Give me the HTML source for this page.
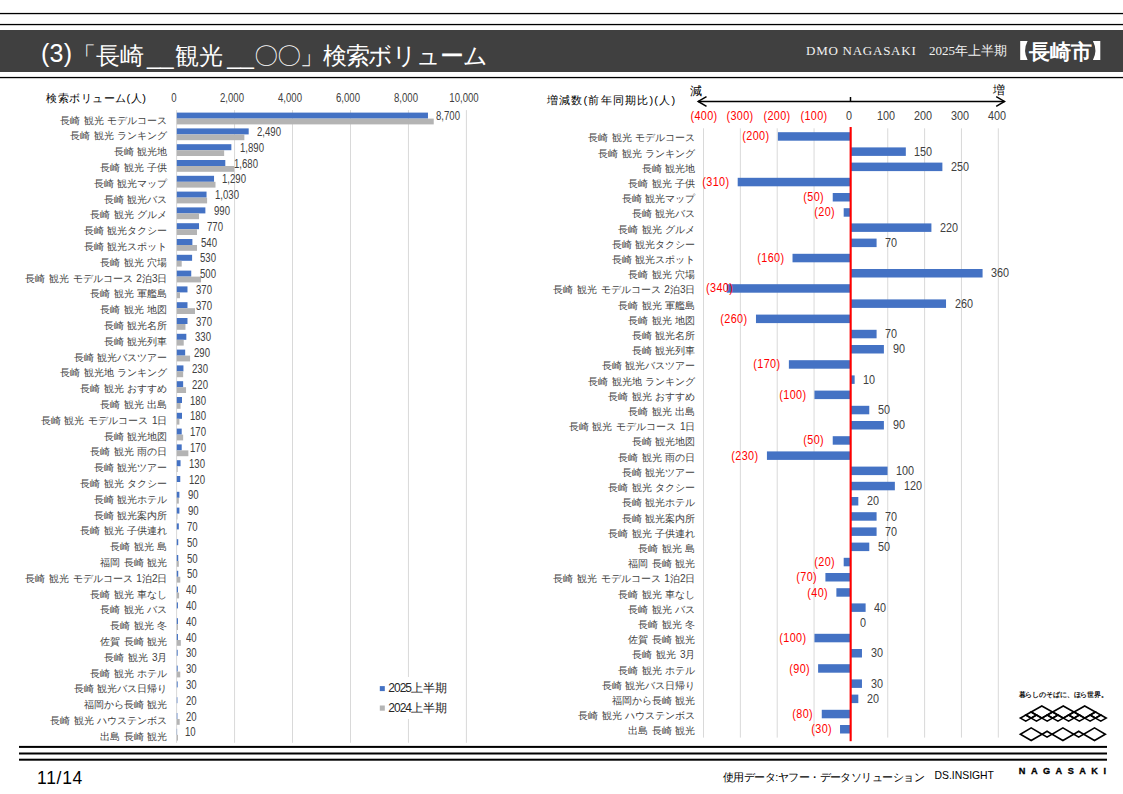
<!DOCTYPE html>
<html lang="ja"><head><meta charset="utf-8"><title>検索ボリューム</title>
<style>
@font-face { font-family: "LSJ"; src: local("Liberation Sans"); unicode-range: U+2E80-9FFF, U+3000-303F, U+FF00-FFEF; size-adjust: 133.3%; }
@font-face { font-family: "LSJB"; src: local("Liberation Sans Bold"), local("LiberationSans-Bold"); font-weight: bold; unicode-range: U+2E80-9FFF, U+3000-303F, U+FF00-FFEF; size-adjust: 133.3%; }
html,body{margin:0;padding:0;background:#fff;}
body{width:1123px;height:794px;position:relative;overflow:hidden;font-family:"LSJ","Liberation Sans",sans-serif;}
svg{position:absolute;left:0;top:0;}
div{position:absolute;white-space:nowrap;height:20px;line-height:20px;margin-top:-10px;}
.c{width:120px;text-align:center;}
.r{text-align:right;}
.title{color:#fff;font-size:24px;height:30px;line-height:30px;margin-top:-15px;}
.hdr2{color:#f2f2f2;font-family:"LSJ","Liberation Serif",serif;font-size:13px;}
.ttl{font-size:11px;color:#000;}
.hdr{color:#f2f2f2;font-family:"LSJ","Liberation Serif",serif;font-size:13px;letter-spacing:0.75px;}
.city{color:#fff;font-family:"LSJB","Liberation Sans",sans-serif;font-weight:bold;font-size:21px;height:30px;line-height:30px;margin-top:-15px;}
.lab{font-size:10px;word-spacing:1px;color:#404040;}
.leg{font-size:12px;color:#262626;}
.lab12{font-size:12px;color:#000;}
.num12{font-size:12px;color:#404040;transform:scaleX(0.8);transform-origin:0 50%;}
.num12.c{transform-origin:50% 50%;}
.num11,.num11p{font-size:12.5px;color:#404040;transform:scaleX(0.865);transform-origin:0 50%;}
.num11p{letter-spacing:0.45px;}
.c{transform-origin:50% 50% !important;}
.r{transform-origin:100% 50% !important;}
.red{color:#ff0000;}
.ls{letter-spacing:3.5px;}
.pg{font-size:17.5px;letter-spacing:0.7px;color:#000;}
.src{font-size:11px;letter-spacing:-0.55px;color:#000;}
.src2{font-size:10.4px;color:#000;}
.tag{font-family:"LSJB","Liberation Sans",sans-serif;font-weight:bold;font-size:6.8px;letter-spacing:-0.12px;color:#111;}
.nag{font-family:"Liberation Sans",sans-serif;font-weight:bold;font-size:9.2px;letter-spacing:5.45px;color:#000;-webkit-text-stroke:0.3px #000;}
</style></head><body>
<svg width="1123" height="794" viewBox="0 0 1123 794">
<rect x="0" y="12.9" width="1123" height="1.3" fill="#000"/>
<rect x="0" y="23.9" width="1123" height="1.3" fill="#000"/>
<rect x="0" y="30" width="1123" height="42" fill="#404040"/>
<rect x="0" y="76.9" width="1123" height="1.3" fill="#000"/>
<path d="M1020.2,41 L1027.6,41 Q1022.6,50.5 1027.6,60 L1020.2,60 Z" fill="#fff"/>
<path d="M1100.3,41 L1092.9,41 Q1097.9,50.5 1092.9,60 L1100.3,60 Z" fill="#fff"/>
<rect x="176.10" y="110.10" width="1" height="632.70" fill="#d9d9d9"/>
<rect x="234.06" y="110.10" width="1" height="632.70" fill="#d9d9d9"/>
<rect x="292.02" y="110.10" width="1" height="632.70" fill="#d9d9d9"/>
<rect x="349.98" y="110.10" width="1" height="632.70" fill="#d9d9d9"/>
<rect x="407.94" y="110.10" width="1" height="632.70" fill="#d9d9d9"/>
<rect x="465.90" y="110.10" width="1" height="632.70" fill="#d9d9d9"/>
<rect x="176.8" y="112.60" width="251.17" height="6.0" fill="#4472c4"/>
<rect x="176.8" y="118.60" width="256.94" height="5.8" fill="#b4b4b4"/>
<rect x="176.8" y="128.40" width="71.89" height="6.0" fill="#4472c4"/>
<rect x="176.8" y="134.40" width="67.56" height="5.8" fill="#b4b4b4"/>
<rect x="176.8" y="144.20" width="54.56" height="6.0" fill="#4472c4"/>
<rect x="176.8" y="150.20" width="47.35" height="5.8" fill="#b4b4b4"/>
<rect x="176.8" y="160.00" width="48.50" height="6.0" fill="#4472c4"/>
<rect x="176.8" y="166.00" width="57.45" height="5.8" fill="#b4b4b4"/>
<rect x="176.8" y="175.80" width="37.24" height="6.0" fill="#4472c4"/>
<rect x="176.8" y="181.80" width="38.69" height="5.8" fill="#b4b4b4"/>
<rect x="176.8" y="191.60" width="29.74" height="6.0" fill="#4472c4"/>
<rect x="176.8" y="197.60" width="30.31" height="5.8" fill="#b4b4b4"/>
<rect x="176.8" y="207.40" width="28.58" height="6.0" fill="#4472c4"/>
<rect x="176.8" y="213.40" width="22.23" height="5.8" fill="#b4b4b4"/>
<rect x="176.8" y="223.20" width="22.23" height="6.0" fill="#4472c4"/>
<rect x="176.8" y="229.20" width="20.21" height="5.8" fill="#b4b4b4"/>
<rect x="176.8" y="239.00" width="15.59" height="6.0" fill="#4472c4"/>
<rect x="176.8" y="245.00" width="20.21" height="5.8" fill="#b4b4b4"/>
<rect x="176.8" y="254.80" width="15.30" height="6.0" fill="#4472c4"/>
<rect x="176.8" y="260.80" width="4.91" height="5.8" fill="#b4b4b4"/>
<rect x="176.8" y="270.60" width="14.44" height="6.0" fill="#4472c4"/>
<rect x="176.8" y="276.60" width="24.25" height="5.8" fill="#b4b4b4"/>
<rect x="176.8" y="286.40" width="10.68" height="6.0" fill="#4472c4"/>
<rect x="176.8" y="292.40" width="3.18" height="5.8" fill="#b4b4b4"/>
<rect x="176.8" y="302.20" width="10.68" height="6.0" fill="#4472c4"/>
<rect x="176.8" y="308.20" width="18.19" height="5.8" fill="#b4b4b4"/>
<rect x="176.8" y="318.00" width="10.68" height="6.0" fill="#4472c4"/>
<rect x="176.8" y="324.00" width="8.66" height="5.8" fill="#b4b4b4"/>
<rect x="176.8" y="333.80" width="9.53" height="6.0" fill="#4472c4"/>
<rect x="176.8" y="339.80" width="6.93" height="5.8" fill="#b4b4b4"/>
<rect x="176.8" y="349.60" width="8.37" height="6.0" fill="#4472c4"/>
<rect x="176.8" y="355.60" width="13.28" height="5.8" fill="#b4b4b4"/>
<rect x="176.8" y="365.40" width="6.64" height="6.0" fill="#4472c4"/>
<rect x="176.8" y="371.40" width="6.35" height="5.8" fill="#b4b4b4"/>
<rect x="176.8" y="381.20" width="6.35" height="6.0" fill="#4472c4"/>
<rect x="176.8" y="387.20" width="9.24" height="5.8" fill="#b4b4b4"/>
<rect x="176.8" y="397.00" width="5.20" height="6.0" fill="#4472c4"/>
<rect x="176.8" y="403.00" width="3.75" height="5.8" fill="#b4b4b4"/>
<rect x="176.8" y="412.80" width="5.20" height="6.0" fill="#4472c4"/>
<rect x="176.8" y="418.80" width="2.60" height="5.8" fill="#b4b4b4"/>
<rect x="176.8" y="428.60" width="4.91" height="6.0" fill="#4472c4"/>
<rect x="176.8" y="434.60" width="6.35" height="5.8" fill="#b4b4b4"/>
<rect x="176.8" y="444.40" width="4.91" height="6.0" fill="#4472c4"/>
<rect x="176.8" y="450.40" width="11.55" height="5.8" fill="#b4b4b4"/>
<rect x="176.8" y="460.20" width="3.75" height="6.0" fill="#4472c4"/>
<rect x="176.8" y="466.20" width="0.87" height="5.8" fill="#b4b4b4"/>
<rect x="176.8" y="476.00" width="3.46" height="6.0" fill="#4472c4"/>
<rect x="176.8" y="491.80" width="2.60" height="6.0" fill="#4472c4"/>
<rect x="176.8" y="497.80" width="2.02" height="5.8" fill="#b4b4b4"/>
<rect x="176.8" y="507.60" width="2.60" height="6.0" fill="#4472c4"/>
<rect x="176.8" y="513.60" width="0.58" height="5.8" fill="#b4b4b4"/>
<rect x="176.8" y="523.40" width="2.02" height="6.0" fill="#4472c4"/>
<rect x="176.8" y="539.20" width="1.44" height="6.0" fill="#4472c4"/>
<rect x="176.8" y="555.00" width="1.44" height="6.0" fill="#4472c4"/>
<rect x="176.8" y="561.00" width="2.02" height="5.8" fill="#b4b4b4"/>
<rect x="176.8" y="570.80" width="1.44" height="6.0" fill="#4472c4"/>
<rect x="176.8" y="576.80" width="3.46" height="5.8" fill="#b4b4b4"/>
<rect x="176.8" y="586.60" width="1.15" height="6.0" fill="#4472c4"/>
<rect x="176.8" y="592.60" width="2.31" height="5.8" fill="#b4b4b4"/>
<rect x="176.8" y="602.40" width="1.15" height="6.0" fill="#4472c4"/>
<rect x="176.8" y="618.20" width="1.15" height="6.0" fill="#4472c4"/>
<rect x="176.8" y="624.20" width="1.15" height="5.8" fill="#b4b4b4"/>
<rect x="176.8" y="634.00" width="1.15" height="6.0" fill="#4472c4"/>
<rect x="176.8" y="640.00" width="4.04" height="5.8" fill="#b4b4b4"/>
<rect x="176.8" y="649.80" width="0.87" height="6.0" fill="#4472c4"/>
<rect x="176.8" y="665.60" width="0.87" height="6.0" fill="#4472c4"/>
<rect x="176.8" y="671.60" width="3.46" height="5.8" fill="#b4b4b4"/>
<rect x="176.8" y="681.40" width="0.87" height="6.0" fill="#4472c4"/>
<rect x="176.8" y="697.20" width="0.58" height="6.0" fill="#4472c4"/>
<rect x="176.8" y="713.00" width="0.58" height="6.0" fill="#4472c4"/>
<rect x="176.8" y="719.00" width="2.89" height="5.8" fill="#b4b4b4"/>
<rect x="176.8" y="728.80" width="0.29" height="6.0" fill="#4472c4"/>
<rect x="176.8" y="734.80" width="1.15" height="5.8" fill="#b4b4b4"/>
<rect x="376" y="677" width="76" height="42" fill="#fff"/>
<rect x="379.8" y="686.1" width="5" height="5" fill="#4472c4"/>
<rect x="379.8" y="705.5" width="5" height="5.2" fill="#b4b4b4"/>
<rect x="703.00" y="128.30" width="1" height="609.30" fill="#d9d9d9"/>
<rect x="739.85" y="128.30" width="1" height="609.30" fill="#d9d9d9"/>
<rect x="776.70" y="128.30" width="1" height="609.30" fill="#d9d9d9"/>
<rect x="813.55" y="128.30" width="1" height="609.30" fill="#d9d9d9"/>
<rect x="850.40" y="128.30" width="1" height="609.30" fill="#d9d9d9"/>
<rect x="887.25" y="128.30" width="1" height="609.30" fill="#d9d9d9"/>
<rect x="924.10" y="128.30" width="1" height="609.30" fill="#d9d9d9"/>
<rect x="960.95" y="128.30" width="1" height="609.30" fill="#d9d9d9"/>
<rect x="997.80" y="128.30" width="1" height="609.30" fill="#d9d9d9"/>
<rect x="777.90" y="132.20" width="73.10" height="8.5" fill="#4472c4"/>
<rect x="851.00" y="147.40" width="54.82" height="8.5" fill="#4472c4"/>
<rect x="851.00" y="162.60" width="91.38" height="8.5" fill="#4472c4"/>
<rect x="737.70" y="177.80" width="113.30" height="8.5" fill="#4472c4"/>
<rect x="832.73" y="193.00" width="18.27" height="8.5" fill="#4472c4"/>
<rect x="843.69" y="208.20" width="7.31" height="8.5" fill="#4472c4"/>
<rect x="851.00" y="223.40" width="80.41" height="8.5" fill="#4472c4"/>
<rect x="851.00" y="238.60" width="25.59" height="8.5" fill="#4472c4"/>
<rect x="792.52" y="253.80" width="58.48" height="8.5" fill="#4472c4"/>
<rect x="851.00" y="269.00" width="131.58" height="8.5" fill="#4472c4"/>
<rect x="726.73" y="284.20" width="124.27" height="8.5" fill="#4472c4"/>
<rect x="851.00" y="299.40" width="95.03" height="8.5" fill="#4472c4"/>
<rect x="755.97" y="314.60" width="95.03" height="8.5" fill="#4472c4"/>
<rect x="851.00" y="329.80" width="25.59" height="8.5" fill="#4472c4"/>
<rect x="851.00" y="345.00" width="32.89" height="8.5" fill="#4472c4"/>
<rect x="788.87" y="360.20" width="62.13" height="8.5" fill="#4472c4"/>
<rect x="851.00" y="375.40" width="3.65" height="8.5" fill="#4472c4"/>
<rect x="814.45" y="390.60" width="36.55" height="8.5" fill="#4472c4"/>
<rect x="851.00" y="405.80" width="18.27" height="8.5" fill="#4472c4"/>
<rect x="851.00" y="421.00" width="32.89" height="8.5" fill="#4472c4"/>
<rect x="832.73" y="436.20" width="18.27" height="8.5" fill="#4472c4"/>
<rect x="766.93" y="451.40" width="84.06" height="8.5" fill="#4472c4"/>
<rect x="851.00" y="466.60" width="36.55" height="8.5" fill="#4472c4"/>
<rect x="851.00" y="481.80" width="43.86" height="8.5" fill="#4472c4"/>
<rect x="851.00" y="497.00" width="7.31" height="8.5" fill="#4472c4"/>
<rect x="851.00" y="512.20" width="25.59" height="8.5" fill="#4472c4"/>
<rect x="851.00" y="527.40" width="25.59" height="8.5" fill="#4472c4"/>
<rect x="851.00" y="542.60" width="18.27" height="8.5" fill="#4472c4"/>
<rect x="843.69" y="557.80" width="7.31" height="8.5" fill="#4472c4"/>
<rect x="825.41" y="573.00" width="25.59" height="8.5" fill="#4472c4"/>
<rect x="836.38" y="588.20" width="14.62" height="8.5" fill="#4472c4"/>
<rect x="851.00" y="603.40" width="14.62" height="8.5" fill="#4472c4"/>
<rect x="814.45" y="633.80" width="36.55" height="8.5" fill="#4472c4"/>
<rect x="851.00" y="649.00" width="10.96" height="8.5" fill="#4472c4"/>
<rect x="818.11" y="664.20" width="32.89" height="8.5" fill="#4472c4"/>
<rect x="851.00" y="679.40" width="10.96" height="8.5" fill="#4472c4"/>
<rect x="851.00" y="694.60" width="7.31" height="8.5" fill="#4472c4"/>
<rect x="821.76" y="709.80" width="29.24" height="8.5" fill="#4472c4"/>
<rect x="840.03" y="725.00" width="10.96" height="8.5" fill="#4472c4"/>
<rect x="849.6" y="127" width="2.1" height="614.2" fill="#ff0000"/>
<g stroke="#000" stroke-width="1.5" fill="none" stroke-linecap="butt"><line x1="698" y1="101.4" x2="1004.5" y2="101.4"/><polyline points="706.5,96.6 698.2,101.4 706.5,106.3"/><polyline points="996.2,96.6 1004.5,101.4 996.2,106.3"/><line x1="850.5" y1="97" x2="850.5" y2="102"/></g>
<rect x="19" y="745.9" width="1088" height="2" fill="#000"/>
<rect x="19" y="752.5" width="1088" height="2" fill="#000"/>
<rect x="19" y="758.7" width="1088" height="2" fill="#000"/>
<g stroke="#000" stroke-width="1.6" fill="none" stroke-linejoin="miter"><polygon points="1025.76,715.06 1031.12,718.10 1025.76,721.14 1020.40,718.10"/><polygon points="1036.48,715.06 1041.84,718.10 1036.48,721.14 1031.12,718.10"/><polygon points="1047.20,715.06 1052.56,718.10 1047.20,721.14 1041.84,718.10"/><polygon points="1057.92,715.06 1063.28,718.10 1057.92,721.14 1052.56,718.10"/><polygon points="1068.64,715.06 1074.00,718.10 1068.64,721.14 1063.28,718.10"/><polygon points="1079.36,715.06 1084.72,718.10 1079.36,721.14 1074.00,718.10"/><polygon points="1090.08,715.06 1095.44,718.10 1090.08,721.14 1084.72,718.10"/><polygon points="1100.80,715.06 1106.16,718.10 1100.80,721.14 1095.44,718.10"/><polygon points="1031.12,712.02 1036.48,715.06 1031.12,718.10 1025.76,715.06"/><polygon points="1052.56,712.02 1057.92,715.06 1052.56,718.10 1047.20,715.06"/><polygon points="1074.00,712.02 1079.36,715.06 1074.00,718.10 1068.64,715.06"/><polygon points="1095.44,712.02 1100.80,715.06 1095.44,718.10 1090.08,715.06"/><polygon points="1041.84,705.94 1052.56,712.02 1041.84,718.10 1031.12,712.02"/><polygon points="1063.28,705.94 1074.00,712.02 1063.28,718.10 1052.56,712.02"/><polygon points="1084.72,705.94 1095.44,712.02 1084.72,718.10 1074.00,712.02"/><polygon points="1031.20,727.90 1042.05,734.20 1031.20,740.50 1020.35,734.20"/><polygon points="1062.90,727.90 1073.75,734.20 1062.90,740.50 1052.05,734.20"/><polygon points="1094.50,727.90 1105.35,734.20 1094.50,740.50 1083.65,734.20"/><polygon points="1047.05,731.30 1051.95,734.20 1047.05,737.10 1042.15,734.20"/><polygon points="1078.70,731.30 1083.60,734.20 1078.70,737.10 1073.80,734.20"/></g>
</svg>
<div class="title" style="left:41px;top:55px"><span style="letter-spacing:0.2px;font-size:25px;position:relative;top:-2.5px">(3)</span>「長崎<span style="margin-left:2.8px">__</span><span style="margin-left:1.3px">観光</span><span style="margin-left:4.3px">__</span><span style="letter-spacing:-1.1px">〇〇」検索ボリューム</span></div>
<div class="hdr" style="left:806px;top:51px">DMO NAGASAKI</div>
<div class="hdr2" style="left:929px;top:51px">2025年上半期</div>
<div class="city" style="left:1028.5px;top:51.5px">長崎市</div>
<div class="ttl" style="left:46px;top:98px;letter-spacing:0.5px">検索ボリューム(人)</div>
<div class="num12 c" style="left:114.1px;top:97.7px;">0</div>
<div class="num12 c" style="left:172.1px;top:97.7px;">2,000</div>
<div class="num12 c" style="left:230.0px;top:97.7px;">4,000</div>
<div class="num12 c" style="left:288.0px;top:97.7px;">6,000</div>
<div class="num12 c" style="left:345.9px;top:97.7px;">8,000</div>
<div class="num12 c" style="left:403.9px;top:97.7px;">10,000</div>
<div class="lab r" style="right:955.5px;top:120.6px;">長崎 観光 モデルコース</div>
<div class="num12" style="left:436.3px;top:116.1px;">8,700</div>
<div class="lab r" style="right:955.5px;top:136.4px;">長崎 観光 ランキング</div>
<div class="num12" style="left:257.0px;top:131.9px;">2,490</div>
<div class="lab r" style="right:955.5px;top:152.2px;">長崎 観光地</div>
<div class="num12" style="left:239.7px;top:147.7px;">1,890</div>
<div class="lab r" style="right:955.5px;top:168.0px;">長崎 観光 子供</div>
<div class="num12" style="left:233.6px;top:163.5px;">1,680</div>
<div class="lab r" style="right:955.5px;top:183.8px;">長崎 観光マップ</div>
<div class="num12" style="left:222.3px;top:179.3px;">1,290</div>
<div class="lab r" style="right:955.5px;top:199.6px;">長崎 観光バス</div>
<div class="num12" style="left:214.8px;top:195.1px;">1,030</div>
<div class="lab r" style="right:955.5px;top:215.4px;">長崎 観光 グルメ</div>
<div class="num12" style="left:213.7px;top:210.9px;">990</div>
<div class="lab r" style="right:955.5px;top:231.2px;">長崎 観光タクシー</div>
<div class="num12" style="left:207.3px;top:226.7px;">770</div>
<div class="lab r" style="right:955.5px;top:247.0px;">長崎 観光スポット</div>
<div class="num12" style="left:200.7px;top:242.5px;">540</div>
<div class="lab r" style="right:955.5px;top:262.8px;">長崎 観光 穴場</div>
<div class="num12" style="left:200.4px;top:258.3px;">530</div>
<div class="lab r" style="right:955.5px;top:278.6px;">長崎 観光 モデルコース 2泊3日</div>
<div class="num12" style="left:199.5px;top:274.1px;">500</div>
<div class="lab r" style="right:955.5px;top:294.4px;">長崎 観光 軍艦島</div>
<div class="num12" style="left:195.8px;top:289.9px;">370</div>
<div class="lab r" style="right:955.5px;top:310.2px;">長崎 観光 地図</div>
<div class="num12" style="left:195.8px;top:305.7px;">370</div>
<div class="lab r" style="right:955.5px;top:326.0px;">長崎 観光名所</div>
<div class="num12" style="left:195.8px;top:321.5px;">370</div>
<div class="lab r" style="right:955.5px;top:341.8px;">長崎 観光列車</div>
<div class="num12" style="left:194.6px;top:337.3px;">330</div>
<div class="lab r" style="right:955.5px;top:357.6px;">長崎 観光バスツアー</div>
<div class="num12" style="left:193.5px;top:353.1px;">290</div>
<div class="lab r" style="right:955.5px;top:373.4px;">長崎 観光地 ランキング</div>
<div class="num12" style="left:191.7px;top:368.9px;">230</div>
<div class="lab r" style="right:955.5px;top:389.2px;">長崎 観光 おすすめ</div>
<div class="num12" style="left:191.5px;top:384.7px;">220</div>
<div class="lab r" style="right:955.5px;top:405.0px;">長崎 観光 出島</div>
<div class="num12" style="left:190.3px;top:400.5px;">180</div>
<div class="lab r" style="right:955.5px;top:420.8px;">長崎 観光 モデルコース 1日</div>
<div class="num12" style="left:190.3px;top:416.3px;">180</div>
<div class="lab r" style="right:955.5px;top:436.6px;">長崎 観光地図</div>
<div class="num12" style="left:190.0px;top:432.1px;">170</div>
<div class="lab r" style="right:955.5px;top:452.4px;">長崎 観光 雨の日</div>
<div class="num12" style="left:190.0px;top:447.9px;">170</div>
<div class="lab r" style="right:955.5px;top:468.2px;">長崎 観光ツアー</div>
<div class="num12" style="left:188.9px;top:463.7px;">130</div>
<div class="lab r" style="right:955.5px;top:484.0px;">長崎 観光 タクシー</div>
<div class="num12" style="left:188.6px;top:479.5px;">120</div>
<div class="lab r" style="right:955.5px;top:499.8px;">長崎 観光ホテル</div>
<div class="num12" style="left:187.7px;top:495.3px;">90</div>
<div class="lab r" style="right:955.5px;top:515.6px;">長崎 観光案内所</div>
<div class="num12" style="left:187.7px;top:511.1px;">90</div>
<div class="lab r" style="right:955.5px;top:531.4px;">長崎 観光 子供連れ</div>
<div class="num12" style="left:187.1px;top:526.9px;">70</div>
<div class="lab r" style="right:955.5px;top:547.2px;">長崎 観光 島</div>
<div class="num12" style="left:186.5px;top:542.7px;">50</div>
<div class="lab r" style="right:955.5px;top:563.0px;">福岡 長崎 観光</div>
<div class="num12" style="left:186.5px;top:558.5px;">50</div>
<div class="lab r" style="right:955.5px;top:578.8px;">長崎 観光 モデルコース 1泊2日</div>
<div class="num12" style="left:186.5px;top:574.3px;">50</div>
<div class="lab r" style="right:955.5px;top:594.6px;">長崎 観光 車なし</div>
<div class="num12" style="left:186.3px;top:590.1px;">40</div>
<div class="lab r" style="right:955.5px;top:610.4px;">長崎 観光 バス</div>
<div class="num12" style="left:186.3px;top:605.9px;">40</div>
<div class="lab r" style="right:955.5px;top:626.2px;">長崎 観光 冬</div>
<div class="num12" style="left:186.3px;top:621.7px;">40</div>
<div class="lab r" style="right:955.5px;top:642.0px;">佐賀 長崎 観光</div>
<div class="num12" style="left:186.3px;top:637.5px;">40</div>
<div class="lab r" style="right:955.5px;top:657.8px;">長崎 観光 3月</div>
<div class="num12" style="left:186.0px;top:653.3px;">30</div>
<div class="lab r" style="right:955.5px;top:673.6px;">長崎 観光 ホテル</div>
<div class="num12" style="left:186.0px;top:669.1px;">30</div>
<div class="lab r" style="right:955.5px;top:689.4px;">長崎 観光バス日帰り</div>
<div class="num12" style="left:186.0px;top:684.9px;">30</div>
<div class="lab r" style="right:955.5px;top:705.2px;">福岡から長崎 観光</div>
<div class="num12" style="left:185.7px;top:700.7px;">20</div>
<div class="lab r" style="right:955.5px;top:721.0px;">長崎 観光 ハウステンボス</div>
<div class="num12" style="left:185.7px;top:716.5px;">20</div>
<div class="lab r" style="right:955.5px;top:736.8px;">出島 長崎 観光</div>
<div class="num12" style="left:185.4px;top:732.3px;">10</div>
<div class="leg" style="left:388.3px;top:688.3px"><span style="letter-spacing:-1px">2025</span>上半期</div>
<div class="leg" style="left:388.3px;top:708.3px"><span style="letter-spacing:-1px">2024</span>上半期</div>
<div class="ttl" style="left:547px;top:100.2px;letter-spacing:1.2px">増減数(前年同期比)(人)</div>
<div class="lab12" style="left:690px;top:91px">減</div>
<div class="lab12" style="left:993px;top:90px">増</div>
<div class="num11p red c" style="left:643.5px;top:115.5px;">(400)</div>
<div class="num11p red c" style="left:680.4px;top:115.5px;">(300)</div>
<div class="num11p red c" style="left:717.2px;top:115.5px;">(200)</div>
<div class="num11p red c" style="left:754.0px;top:115.5px;">(100)</div>
<div class="num11 c" style="left:789.1px;top:115.5px;">0</div>
<div class="num11 c" style="left:826.0px;top:115.5px;">100</div>
<div class="num11 c" style="left:862.8px;top:115.5px;">200</div>
<div class="num11 c" style="left:899.7px;top:115.5px;">300</div>
<div class="num11 c" style="left:936.5px;top:115.5px;">400</div>
<div class="lab r" style="right:427.5px;top:138.4px;">長崎 観光 モデルコース</div>
<div class="num11p red r" style="right:353.4px;top:136.4px;">(200)</div>
<div class="lab r" style="right:427.5px;top:153.6px;">長崎 観光 ランキング</div>
<div class="num11" style="left:914.4px;top:151.6px;">150</div>
<div class="lab r" style="right:427.5px;top:168.8px;">長崎 観光地</div>
<div class="num11" style="left:951.0px;top:166.8px;">250</div>
<div class="lab r" style="right:427.5px;top:184.0px;">長崎 観光 子供</div>
<div class="num11p red r" style="right:393.6px;top:182.0px;">(310)</div>
<div class="lab r" style="right:427.5px;top:199.2px;">長崎 観光マップ</div>
<div class="num11p red r" style="right:298.6px;top:197.2px;">(50)</div>
<div class="lab r" style="right:427.5px;top:214.4px;">長崎 観光バス</div>
<div class="num11p red r" style="right:287.6px;top:212.4px;">(20)</div>
<div class="lab r" style="right:427.5px;top:229.6px;">長崎 観光 グルメ</div>
<div class="num11" style="left:940.0px;top:227.6px;">220</div>
<div class="lab r" style="right:427.5px;top:244.8px;">長崎 観光タクシー</div>
<div class="num11" style="left:885.2px;top:242.8px;">70</div>
<div class="lab r" style="right:427.5px;top:260.0px;">長崎 観光スポット</div>
<div class="num11p red r" style="right:338.8px;top:258.0px;">(160)</div>
<div class="lab r" style="right:427.5px;top:275.2px;">長崎 観光 穴場</div>
<div class="num11" style="left:991.2px;top:273.2px;">360</div>
<div class="lab r" style="right:427.5px;top:290.4px;">長崎 観光 モデルコース 2泊3日</div>
<div class="num11p red" style="left:706.0px;top:288.4px;">(340)</div>
<div class="lab r" style="right:427.5px;top:305.6px;">長崎 観光 軍艦島</div>
<div class="num11" style="left:954.6px;top:303.6px;">260</div>
<div class="lab r" style="right:427.5px;top:320.8px;">長崎 観光 地図</div>
<div class="num11p red r" style="right:375.3px;top:318.8px;">(260)</div>
<div class="lab r" style="right:427.5px;top:336.0px;">長崎 観光名所</div>
<div class="num11" style="left:885.2px;top:334.0px;">70</div>
<div class="lab r" style="right:427.5px;top:351.2px;">長崎 観光列車</div>
<div class="num11" style="left:892.5px;top:349.2px;">90</div>
<div class="lab r" style="right:427.5px;top:366.4px;">長崎 観光バスツアー</div>
<div class="num11p red r" style="right:342.4px;top:364.4px;">(170)</div>
<div class="lab r" style="right:427.5px;top:381.6px;">長崎 観光地 ランキング</div>
<div class="num11" style="left:863.3px;top:379.6px;">10</div>
<div class="lab r" style="right:427.5px;top:396.8px;">長崎 観光 おすすめ</div>
<div class="num11p red r" style="right:316.8px;top:394.8px;">(100)</div>
<div class="lab r" style="right:427.5px;top:412.0px;">長崎 観光 出島</div>
<div class="num11" style="left:877.9px;top:410.0px;">50</div>
<div class="lab r" style="right:427.5px;top:427.2px;">長崎 観光 モデルコース 1日</div>
<div class="num11" style="left:892.5px;top:425.2px;">90</div>
<div class="lab r" style="right:427.5px;top:442.4px;">長崎 観光地図</div>
<div class="num11p red r" style="right:298.6px;top:440.4px;">(50)</div>
<div class="lab r" style="right:427.5px;top:457.6px;">長崎 観光 雨の日</div>
<div class="num11p red r" style="right:364.4px;top:455.6px;">(230)</div>
<div class="lab r" style="right:427.5px;top:472.8px;">長崎 観光ツアー</div>
<div class="num11" style="left:896.1px;top:470.8px;">100</div>
<div class="lab r" style="right:427.5px;top:488.0px;">長崎 観光 タクシー</div>
<div class="num11" style="left:903.5px;top:486.0px;">120</div>
<div class="lab r" style="right:427.5px;top:503.2px;">長崎 観光ホテル</div>
<div class="num11" style="left:866.9px;top:501.2px;">20</div>
<div class="lab r" style="right:427.5px;top:518.5px;">長崎 観光案内所</div>
<div class="num11" style="left:885.2px;top:516.5px;">70</div>
<div class="lab r" style="right:427.5px;top:533.6px;">長崎 観光 子供連れ</div>
<div class="num11" style="left:885.2px;top:531.6px;">70</div>
<div class="lab r" style="right:427.5px;top:548.8px;">長崎 観光 島</div>
<div class="num11" style="left:877.9px;top:546.8px;">50</div>
<div class="lab r" style="right:427.5px;top:564.0px;">福岡 長崎 観光</div>
<div class="num11p red r" style="right:287.6px;top:562.0px;">(20)</div>
<div class="lab r" style="right:427.5px;top:579.2px;">長崎 観光 モデルコース 1泊2日</div>
<div class="num11p red r" style="right:305.9px;top:577.2px;">(70)</div>
<div class="lab r" style="right:427.5px;top:594.5px;">長崎 観光 車なし</div>
<div class="num11p red r" style="right:294.9px;top:592.5px;">(40)</div>
<div class="lab r" style="right:427.5px;top:609.6px;">長崎 観光 バス</div>
<div class="num11" style="left:874.2px;top:607.6px;">40</div>
<div class="lab r" style="right:427.5px;top:624.8px;">長崎 観光 冬</div>
<div class="num11" style="left:859.6px;top:622.8px;">0</div>
<div class="lab r" style="right:427.5px;top:640.0px;">佐賀 長崎 観光</div>
<div class="num11p red r" style="right:316.8px;top:638.0px;">(100)</div>
<div class="lab r" style="right:427.5px;top:655.2px;">長崎 観光 3月</div>
<div class="num11" style="left:870.6px;top:653.2px;">30</div>
<div class="lab r" style="right:427.5px;top:670.5px;">長崎 観光 ホテル</div>
<div class="num11p red r" style="right:313.2px;top:668.5px;">(90)</div>
<div class="lab r" style="right:427.5px;top:685.6px;">長崎 観光バス日帰り</div>
<div class="num11" style="left:870.6px;top:683.6px;">30</div>
<div class="lab r" style="right:427.5px;top:700.8px;">福岡から長崎 観光</div>
<div class="num11" style="left:866.9px;top:698.8px;">20</div>
<div class="lab r" style="right:427.5px;top:716.0px;">長崎 観光 ハウステンボス</div>
<div class="num11p red r" style="right:309.5px;top:714.0px;">(80)</div>
<div class="lab r" style="right:427.5px;top:731.2px;">出島 長崎 観光</div>
<div class="num11p red r" style="right:291.3px;top:729.2px;">(30)</div>
<div class="pg" style="left:37px;top:778px">11/14</div>
<div class="src" style="left:723px;top:776.8px">使用データ:ヤフー・データソリューション</div>
<div class="src2" style="left:934.5px;top:776.3px">DS.INSIGHT</div>
<div class="tag" style="left:1018.5px;top:694.8px">暮らしのそばに、ほら世界。</div>
<div class="nag" style="left:1018.8px;top:771.2px">NAGASAKI</div>
</body></html>
